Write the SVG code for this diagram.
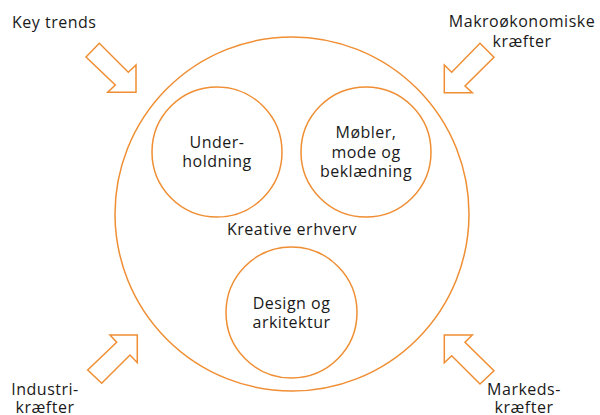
<svg xmlns="http://www.w3.org/2000/svg" width="600" height="415" viewBox="0 0 600 415">
<style>
.c{fill:none;stroke:#EF8E33;stroke-width:1.5}
.a{fill:none;stroke:#EF8E33;stroke-width:1.5;stroke-linejoin:miter}
text{font-family:"Open Sans","DejaVu Sans",sans-serif;font-size:16px;letter-spacing:0.5px;fill:#1a1a1a}
.m{text-anchor:middle}
</style>
<rect width="600" height="415" fill="#fff"/>
<g id="outer"><circle class="c" cx="292" cy="214" r="177"/><text class="m" x="292" y="235">Kreative erhverv</text></g>
<g id="underholdning"><circle class="c" cx="217" cy="152" r="65"/><text class="m" x="217" y="148">Under-</text><text class="m" x="217" y="167">holdning</text></g>
<g id="mobler"><circle class="c" cx="366" cy="152" r="65"/><text class="m" x="366" y="138">Møbler,</text><text class="m" x="366" y="158">mode og</text><text class="m" x="366" y="177">beklædning</text></g>
<g id="design"><circle class="c" cx="291.5" cy="312.5" r="65.5"/><text class="m" x="291.5" y="309">Design og</text><text class="m" x="291.5" y="328">arkitektur</text></g>
<g id="connectors">
<polygon class="a" points="86,57 99.3,43.3 128.3,72.3 136,65 136,92.3 107.7,92.3 115.3,85"/>
<polygon class="a" points="480,43.3 494,57.3 465,86 472.3,92.7 444.3,92.7 444.3,65 451.7,72.3"/>
<polygon class="a" points="110,335 137.3,335 137.3,362.7 130,355 101.7,383.3 87.7,370 116.7,342.3"/>
<polygon class="a" points="444.3,335 472.3,335 465,342.3 494,370.7 480,384 451.7,355.7 444.3,362.7"/>
</g>
<g id="key-trends"><text x="12" y="28">Key trends</text></g>
<g id="makro"><text class="m" x="522" y="27">Makroøkonomiske</text><text class="m" x="522" y="47">kræfter</text></g>
<g id="industri"><text class="m" x="45" y="395">Industri-</text><text class="m" x="45" y="413">kræfter</text></g>
<g id="markeds"><text class="m" x="524" y="395">Markeds-</text><text class="m" x="524" y="413">kræfter</text></g>
</svg>
